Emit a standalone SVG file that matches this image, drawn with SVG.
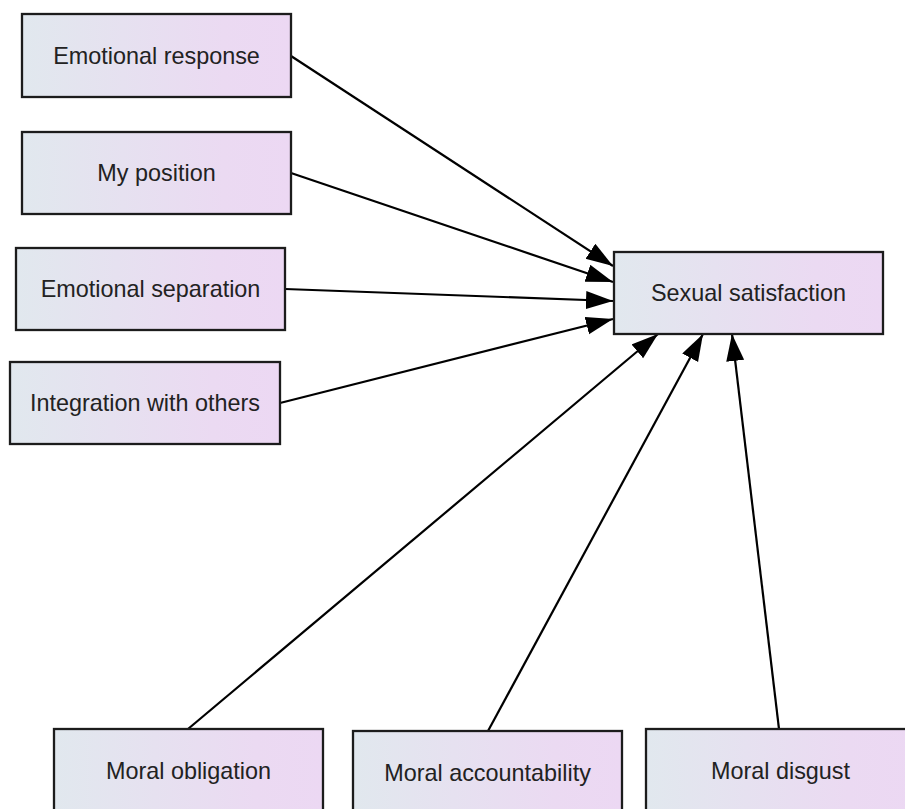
<svg xmlns="http://www.w3.org/2000/svg" width="905" height="809" viewBox="0 0 905 809">
  <defs>
    <linearGradient id="boxfill" x1="0" y1="0" x2="1" y2="0">
      <stop offset="0" stop-color="#e1e8ee"/>
      <stop offset="0.75" stop-color="#ebdaf2"/>
      <stop offset="1" stop-color="#ecd8f3"/>
    </linearGradient>
    <marker id="arrow" markerUnits="userSpaceOnUse" markerWidth="28" markerHeight="20" refX="27" refY="9" orient="auto">
      <path d="M0,0 L27,9 L0,18 z" fill="#000"/>
    </marker>
    <style>
      .box { fill: url(#boxfill); stroke: #1c1c1c; stroke-width: 2.3; }
      .label { font-family: "Liberation Sans", Arial, sans-serif; font-size: 23.4px; fill: #222; text-anchor: middle; }
      .edge { stroke: #000; stroke-width: 2.2; fill: none; marker-end: url(#arrow); }
    </style>
  </defs>
  <rect width="905" height="809" fill="#fff"/>

  <g id="edges">
    <line class="edge" x1="291" y1="56" x2="613" y2="266"/>
    <line class="edge" x1="291" y1="173" x2="613" y2="282"/>
    <line class="edge" x1="285" y1="289" x2="613" y2="301"/>
    <line class="edge" x1="280" y1="403" x2="613" y2="319"/>
    <line class="edge" x1="188" y1="729" x2="658" y2="334"/>
    <line class="edge" x1="488" y1="731" x2="703" y2="334"/>
    <line class="edge" x1="779" y1="729" x2="732" y2="334"/>
  </g>

  <g id="node-emotional-response">
    <rect class="box" x="22" y="14" width="269" height="83"/>
    <text class="label" x="156.5" y="64">Emotional response</text>
  </g>
  <g id="node-my-position">
    <rect class="box" x="22" y="132" width="269" height="82"/>
    <text class="label" x="156.5" y="181.4">My position</text>
  </g>
  <g id="node-emotional-separation">
    <rect class="box" x="16" y="248" width="269" height="82"/>
    <text class="label" x="150.5" y="297.4">Emotional separation</text>
  </g>
  <g id="node-integration-with-others">
    <rect class="box" x="10" y="362" width="270" height="82"/>
    <text class="label" x="145" y="411.4">Integration with others</text>
  </g>
  <g id="node-sexual-satisfaction">
    <rect class="box" x="614" y="252" width="269" height="82"/>
    <text class="label" x="748.5" y="301.4">Sexual satisfaction</text>
  </g>
  <g id="node-moral-obligation">
    <rect class="box" x="54" y="729" width="269" height="83"/>
    <text class="label" x="188.5" y="779">Moral obligation</text>
  </g>
  <g id="node-moral-accountability">
    <rect class="box" x="353" y="731" width="269" height="83"/>
    <text class="label" x="487.5" y="781">Moral accountability</text>
  </g>
  <g id="node-moral-disgust">
    <rect class="box" x="646" y="729" width="269" height="83"/>
    <text class="label" x="780.5" y="779">Moral disgust</text>
  </g>
</svg>
